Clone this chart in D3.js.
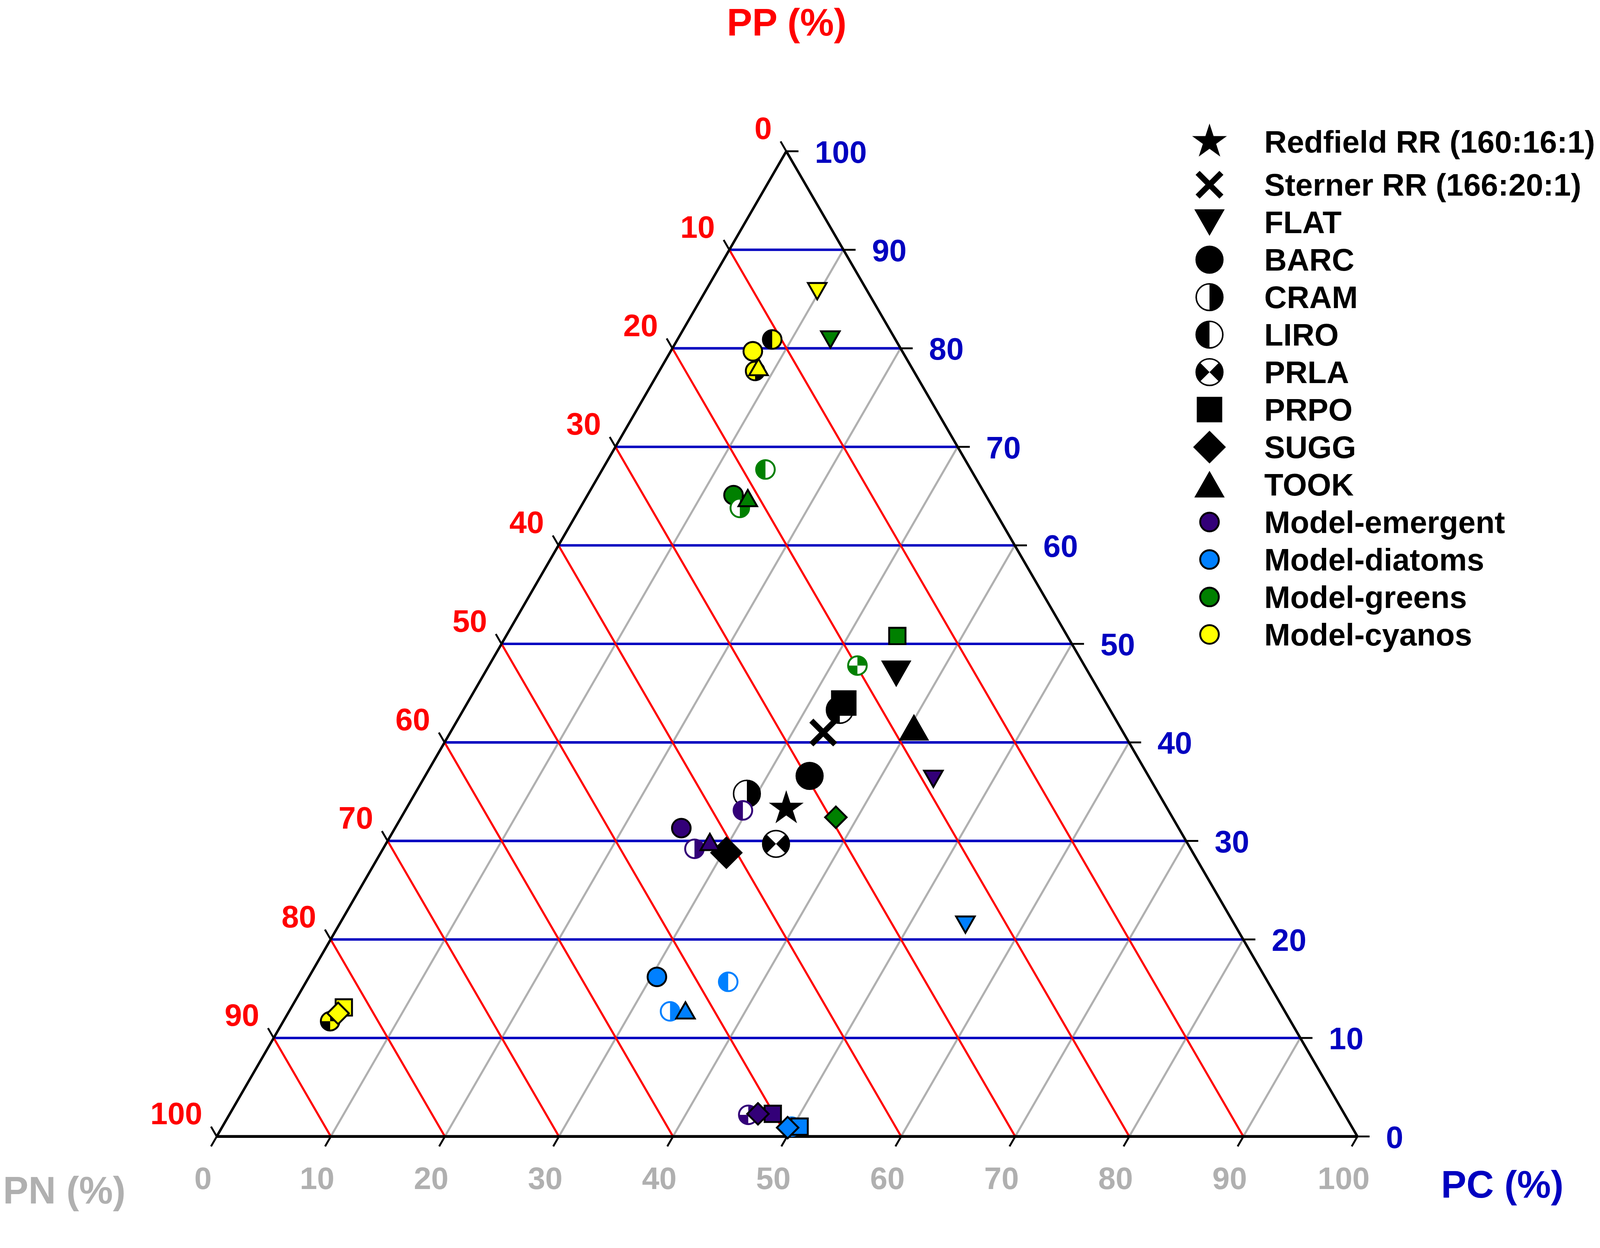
<!DOCTYPE html>
<html>
<head>
<meta charset="utf-8">
<script src="https://cdn.jsdelivr.net/npm/d3@7"></script>
<style>
  html, body { margin: 0; padding: 0; width: 100%; height: 100%; overflow: hidden; background: #fff; }
  svg { display: block; }
  text { font-family: "Liberation Sans", Arial, sans-serif; font-weight: bold; }
</style>
</head>
<body>
<script>
// ---------- data (all values in %, order [PC, PN, PP]) ----------
var siteNames = ["FLAT", "BARC", "CRAM", "LIRO", "PRLA", "PRPO", "SUGG", "TOOK"];

var observed = [
  [47.0, 36.1, 16.9], [36.6, 33.7, 29.7], [34.8, 29.1, 36.1], [43.3, 33.0, 23.7],
  [29.7, 34.2, 36.1], [44.0, 33.0, 23.0], [28.8, 30.3, 40.9], [41.5, 40.4, 18.1]
];
var modelEmergent = [
  [36.3, 44.7, 19.0], [31.3, 25.1, 43.6], [29.2, 27.3, 43.5], [33.1, 29.6, 37.3],
  [2.2, 45.5, 52.3], [2.3, 47.6, 50.1], [2.3, 46.3, 51.4], [29.9, 28.3, 41.8]
];
var modelDiatoms = [
  [21.5, 54.9, 23.6], [16.2, 30.5, 53.3], [12.7, 33.4, 53.9], [15.7, 37.0, 47.3],
  [1.0, 49.9, 49.1], [1.0, 50.6, 48.4], [0.9, 49.6, 49.5], [12.8, 34.7, 52.5]
];
var modelGreens = [
  [80.9, 13.4, 5.7], [65.1, 12.8, 22.1], [63.8, 14.0, 22.2], [67.7, 14.3, 18.0],
  [47.8, 32.3, 19.9], [50.8, 34.3, 14.9], [32.4, 38.1, 29.5], [64.8, 14.2, 21.0]
];
var modelCyanos = [
  [85.8, 9.8, 4.4], [79.7, 7.2, 13.1], [80.9, 8.3, 10.8], [77.7, 8.4, 13.9],
  [11.7, 4.1, 84.2], [13.1, 4.6, 82.3], [12.5, 4.4, 83.1], [78.1, 8.5, 13.4]
];

var ratioNames = ["Redfield RR (160:16:1)", "Sterner RR (166:20:1)"];
var ratioValues = [[33.3, 33.3, 33.4], [41.0, 32.7, 26.3]];

var modelNames = ["Model-emergent", "Model-diatoms", "Model-greens", "Model-cyanos"];
var modelColors = ["#330078", "#0080FF", "#008000", "#FFFF00"];
var modelSeries = [modelEmergent, modelDiatoms, modelGreens, modelCyanos];

var tickValues = [0, 10, 20, 30, 40, 50, 60, 70, 80, 90, 100];

// ---------- stage ----------
var width = 4208;
var height = 3196;
var RED = "#FF0000", BLUE = "#0000C0", GRAY = "#B0B0B0";

// keep the drawing's proportions, anchored top-left, whatever the viewport is
var svg = d3.select("body").append("svg")
  .attr("width", "100%").attr("height", "100%")
  .attr("viewBox", "0 0 " + width + " " + height)
  .attr("preserveAspectRatio", "xMinYMin meet");

// triangle corners: PC=100 at apex, PP=100 bottom left, PN=100 bottom right
var vTop = { x: 2068, y: 398 };
var vLeft = { x: 570, y: 2990 };
var vRight = { x: 3570, y: 2990 };

var yPC = d3.scaleLinear().domain([0, 100]).range([vLeft.y, vTop.y]);
var xPN = d3.scaleLinear().domain([0, 100]).range([0, vRight.x - vLeft.x]);
var xPC = d3.scaleLinear().domain([0, 100]).range([0, vTop.x - vLeft.x]);

function proj(pc, pn) {
  return [vLeft.x + xPN(pn) + xPC(pc), yPC(pc)];
}

function addLine(g, a, b, color, w) {
  g.append("line")
    .attr("x1", a[0]).attr("y1", a[1]).attr("x2", b[0]).attr("y2", b[1])
    .attr("stroke", color).attr("stroke-width", w);
}

// ---------- grid ----------
var inner = tickValues.filter(function (v) { return v > 0 && v < 100; });
var grid = svg.append("g");

inner.forEach(function (v) { // PN constant (gray)
  addLine(grid, proj(0, v), proj(100 - v, v), GRAY, 5.5);
});
inner.forEach(function (v) { // PC constant (blue)
  addLine(grid, proj(v, 0), proj(v, 100 - v), BLUE, 6.5);
});
inner.forEach(function (v) { // PP constant (red)
  addLine(grid, proj(100 - v, 0), proj(0, 100 - v), RED, 5.5);
});

// edges
var edges = svg.append("g");
addLine(edges, proj(100, 0), proj(0, 0), "#000", 6.5);
addLine(edges, proj(100, 0), proj(0, 100), "#000", 6.5);
addLine(edges, proj(0, 0), proj(0, 100), "#000", 7.5);

// ---------- ticks and labels ----------
var ticks = svg.append("g");
var tl = 30;
var dLeft = [(vTop.x - vRight.x), (vTop.y - vRight.y)];
var nL = Math.hypot(dLeft[0], dLeft[1]);
var dBot = [(vLeft.x - vTop.x), (vLeft.y - vTop.y)];
var nB = Math.hypot(dBot[0], dBot[1]);

tickValues.forEach(function (v) {
  // PP on left edge
  var p = proj(100 - v, 0);
  addLine(ticks, p, [p[0] + dLeft[0] / nL * tl, p[1] + dLeft[1] / nL * tl], "#000", 5);
  ticks.append("text").attr("x", p[0] - 38).attr("y", p[1] - 32)
    .attr("text-anchor", "end").attr("font-size", 82).attr("fill", RED).text(v);

  // PC on right edge
  var q = proj(v, 100 - v);
  addLine(ticks, q, [q[0] + 32, q[1]], "#000", 5);
  ticks.append("text").attr("x", q[0] + 75).attr("y", q[1] + 30)
    .attr("text-anchor", "start").attr("font-size", 82).attr("fill", BLUE).text(v);

  // PN on bottom edge
  var b = proj(0, v);
  addLine(ticks, b, [b[0] + dBot[0] / nB * tl, b[1] + dBot[1] / nB * tl], "#000", 5);
  ticks.append("text").attr("x", b[0] - 36).attr("y", 3128)
    .attr("text-anchor", "middle").attr("font-size", 82).attr("fill", GRAY).text(v);
});

svg.append("text").attr("x", 2069).attr("y", 93).attr("text-anchor", "middle")
  .attr("font-size", 100).attr("fill", RED).text("PP (%)");
svg.append("text").attr("x", 3951).attr("y", 3151).attr("text-anchor", "middle")
  .attr("font-size", 100).attr("fill", BLUE).text("PC (%)");
svg.append("text").attr("x", 8).attr("y", 3166).attr("text-anchor", "start")
  .attr("font-size", 100).attr("fill", GRAY).text("PN (%)");

// ---------- markers ----------
var arc = d3.arc().innerRadius(0);

function wedge(g, r, a0, a1, color) {
  g.append("path").attr("d", arc({ outerRadius: r, startAngle: a0, endAngle: a1 }))
    .attr("fill", color);
}

function triPath(w, h, down) {
  return down
    ? "M" + (-w / 2) + "," + (-h / 2) + "L" + (w / 2) + "," + (-h / 2) + "L0," + (h / 2) + "Z"
    : "M0," + (-h / 2) + "L" + (w / 2) + "," + (h / 2) + "L" + (-w / 2) + "," + (h / 2) + "Z";
}

// site marker; big = observed/legend size, small = model size
function drawSite(parent, site, x, y, color, big) {
  var g = parent.append("g").attr("transform", "translate(" + x + "," + y + ")");
  var sw = big ? 4 : 5;
  var r = big ? 35 : 24.5;
  var isBlack = color === "#000000";
  var alt = color === "#FFFF00" ? "#000000" : "#FFFFFF";
  var ring = (isBlack || color === "#FFFF00") ? "#000000" : color;
  var PI = Math.PI;

  if (site === "BARC") {
    g.append("circle").attr("r", r).attr("fill", color).attr("stroke", "#000").attr("stroke-width", sw);
  } else if (site === "CRAM" || site === "LIRO" || site === "PRLA") {
    g.append("circle").attr("r", r).attr("fill", color);
    if (site === "CRAM") wedge(g, r, PI, 2 * PI, alt);
    if (site === "LIRO") wedge(g, r, 0, PI, alt);
    if (site === "PRLA") {
      if (isBlack) {
        wedge(g, r, -PI / 4, PI / 4, alt);
        wedge(g, r, 3 * PI / 4, 5 * PI / 4, alt);
      } else if (color === "#FFFF00") {
        wedge(g, r, 0, PI / 2, alt);
        wedge(g, r, PI, 3 * PI / 2, alt);
      } else {
        wedge(g, r, 3 * PI / 2, 2 * PI, alt);
        wedge(g, r, PI / 2, PI, alt);
      }
    }
    g.append("circle").attr("r", r).attr("fill", "none").attr("stroke", ring).attr("stroke-width", sw);
  } else if (site === "PRPO") {
    var s = big ? 63 : 43;
    g.append("path").attr("d", d3.symbol(d3.symbolSquare, s * s)())
      .attr("fill", color).attr("stroke", "#000").attr("stroke-width", sw);
  } else if (site === "SUGG") {
    var sd = big ? 57 : 40;
    g.append("path").attr("d", d3.symbol(d3.symbolSquare, sd * sd)())
      .attr("transform", "rotate(45)")
      .attr("fill", color).attr("stroke", "#000").attr("stroke-width", sw);
  } else if (site === "FLAT" || site === "TOOK") {
    var w = big ? 73 : 49, h = big ? 64 : 43;
    g.append("path").attr("d", triPath(w, h, site === "FLAT"))
      .attr("fill", color).attr("stroke", "#000").attr("stroke-width", sw)
      .attr("stroke-linejoin", "miter");
  }
  return g;
}

function drawRatio(parent, i, x, y) {
  var g = parent.append("g").attr("transform", "translate(" + x + "," + y + ")");
  if (i === 0) {
    g.append("path").attr("d", d3.symbol(d3.symbolStar, 2600)()).attr("fill", "#000");
  } else {
    g.append("path").attr("d", "M-26,-26L26,26M26,-26L-26,26")
      .attr("stroke", "#000").attr("stroke-width", 15).attr("stroke-linecap", "square");
  }
}

var marks = svg.append("g");

ratioValues.forEach(function (d, i) {
  var p = proj(d[0], d[1]);
  drawRatio(marks, i, p[0], p[1]);
});

observed.forEach(function (d, i) {
  var p = proj(d[0], d[1]);
  drawSite(marks, siteNames[i], p[0], p[1], "#000000", true);
});

modelSeries.forEach(function (series, k) {
  series.forEach(function (d, i) {
    var p = proj(d[0], d[1]);
    drawSite(marks, siteNames[i], p[0], p[1], modelColors[k], false);
  });
});

// ---------- legend ----------
var legend = svg.append("g");
var legendX = 3181, legendTextX = 3325;
function legendY(i) { return i === 0 ? 373 : 486 + (i - 1) * 98.6; }

var entries = ratioNames.map(function (n, i) { return { name: n, kind: "ratio", i: i }; })
  .concat(siteNames.map(function (n) { return { name: n, kind: "site" }; }))
  .concat(modelNames.map(function (n, i) { return { name: n, kind: "model", i: i }; }));

entries.forEach(function (e, i) {
  var y = legendY(i);
  if (e.kind === "ratio") drawRatio(legend, e.i, legendX, y);
  else if (e.kind === "site") drawSite(legend, e.name, legendX, y, "#000000", true);
  else drawSite(legend, "BARC", legendX, y, modelColors[e.i], false);
  legend.append("text").attr("x", legendTextX).attr("y", y + 29)
    .attr("font-size", 82).attr("fill", "#000").text(e.name);
});
</script>
</body>
</html>
